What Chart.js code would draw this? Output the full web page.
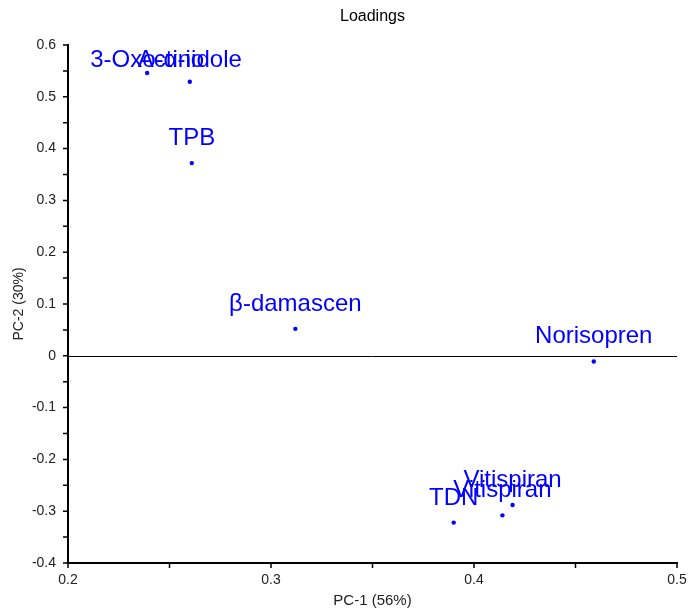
<!DOCTYPE html>
<html>
<head>
<meta charset="utf-8">
<script src="https://cdn.jsdelivr.net/npm/chart.js@4"></script>
<style>
  html, body { margin: 0; padding: 0; background: #fff; }
  #wrap { width: 688px; height: 610px; }
</style>
</head>
<body>
<div id="wrap"><canvas id="loadings"></canvas></div>
<script>
// loadings
var names = ['3-Oxo-\u03b1-io', 'Actinidole', 'TPB', '\u03b2-damascen', 'Norisopren', 'TDN', 'Vitispiran', 'Vitispiran'];
var pc1 = [0.239, 0.260, 0.261, 0.312, 0.459, 0.390, 0.414, 0.419];
var pc2 = [0.546, 0.529, 0.372, 0.052, -0.011, -0.322, -0.308, -0.288];

var chartTitle = 'Loadings';
var xTitle = 'PC-1 (56%)';
var yTitle = 'PC-2 (30%)';

var blue = 'rgb(0,0,255)';
var fontFam = "'Liberation Sans', Arial, sans-serif";

function isMajor(v) {
    return Math.abs(v * 10 - Math.round(v * 10)) < 1e-6;
}

function tickText(v) {
    if (!isMajor(v)) return '';
    if (Math.abs(v) < 1e-9) return '0';
    return v.toFixed(1);
}

// title, zero line, tick marks and point names
var extrasPlugin = {
    id: 'extras',
    afterDraw: function(chart) {
        var ctx = chart.ctx;
        var area = chart.chartArea;
        var xs = chart.scales.x, ys = chart.scales.y;
        ctx.save();

        ctx.fillStyle = '#000';
        ctx.font = '16px ' + fontFam;
        ctx.textAlign = 'center';
        ctx.textBaseline = 'middle';
        ctx.fillText(chartTitle, (area.left + area.right) / 2, 17);

        // zero line
        var y0 = Math.round(ys.getPixelForValue(0)) + 0.5;
        ctx.strokeStyle = '#000';
        ctx.lineWidth = 1;
        ctx.beginPath();
        ctx.moveTo(area.left, y0);
        ctx.lineTo(area.right, y0);
        ctx.stroke();

        // tick marks, all the same length
        ctx.lineWidth = 1.5;
        ctx.beginPath();
        ys.ticks.forEach(function(t) {
            var p = ys.getPixelForValue(t.value);
            ctx.moveTo(area.left - 5, p);
            ctx.lineTo(area.left, p);
        });
        xs.ticks.forEach(function(t) {
            var p = xs.getPixelForValue(t.value);
            ctx.moveTo(p, area.bottom);
            ctx.lineTo(p, area.bottom + 5);
        });
        ctx.stroke();

        // names above the points, kept inside the plot
        var meta = chart.getDatasetMeta(0);
        ctx.fillStyle = blue;
        ctx.font = '24px ' + fontFam;
        ctx.textAlign = 'center';
        ctx.textBaseline = 'alphabetic';
        meta.data.forEach(function(el, i) {
            var by = Math.max(el.y - 18, area.top + 22);
            ctx.fillText(names[i], el.x, by);
        });
        ctx.restore();
    }
};

function buildPoints() {
    var pts = [];
    for (var i = 0; i < pc1.length; i++) {
        pts.push({x: pc1[i], y: pc2[i]});
    }
    return pts;
}

function initializeChart() {
    var ctx = document.getElementById('loadings').getContext('2d');
    new Chart(ctx, {
        type: 'scatter',
        data: {
            datasets: [{
                data: buildPoints(),
                backgroundColor: blue,
                borderColor: blue,
                pointRadius: 2.2,
                pointBorderWidth: 0
            }]
        },
        options: {
            responsive: true,
            maintainAspectRatio: false,
            animation: false,
            layout: { padding: { top: 45, right: 11, left: 0, bottom: 0 } },
            plugins: {
                legend: { display: false },
                tooltip: { enabled: false },
                title: { display: false }
            },
            scales: {
                x: {
                    type: 'linear',
                    min: 0.2,
                    max: 0.5,
                    afterFit: function(s) {
                        s.height = 47;
                        s.paddingLeft = 0;
                        s.paddingRight = 0;
                    },
                    ticks: {
                        stepSize: 0.05,
                        autoSkip: false,
                        maxRotation: 0,
                        padding: 9,
                        color: '#222',
                        font: { family: fontFam, size: 14 },
                        callback: function(v) { return tickText(v); }
                    },
                    grid: { display: true, drawOnChartArea: false, drawTicks: false },
                    border: { display: true, color: '#000', width: 2 },
                    title: {
                        display: true,
                        text: xTitle,
                        color: '#222',
                        font: { family: fontFam, size: 15 },
                        padding: { top: 0, bottom: 0 }
                    }
                },
                y: {
                    type: 'linear',
                    min: -0.4,
                    max: 0.6,
                    afterFit: function(s) {
                        s.width = 68;
                        s.paddingTop = 0;
                        s.paddingBottom = 0;
                    },
                    ticks: {
                        stepSize: 0.05,
                        autoSkip: false,
                        padding: 12,
                        color: '#222',
                        font: { family: fontFam, size: 14 },
                        callback: function(v) { return tickText(v); }
                    },
                    grid: { display: true, drawOnChartArea: false, drawTicks: false },
                    border: { display: true, color: '#000', width: 2 },
                    title: {
                        display: true,
                        text: yTitle,
                        color: '#222',
                        font: { family: fontFam, size: 14 },
                        padding: { top: 11, bottom: 0 }
                    }
                }
            }
        },
        plugins: [extrasPlugin]
    });
}

document.addEventListener('DOMContentLoaded', initializeChart);
</script>
</body>
</html>
